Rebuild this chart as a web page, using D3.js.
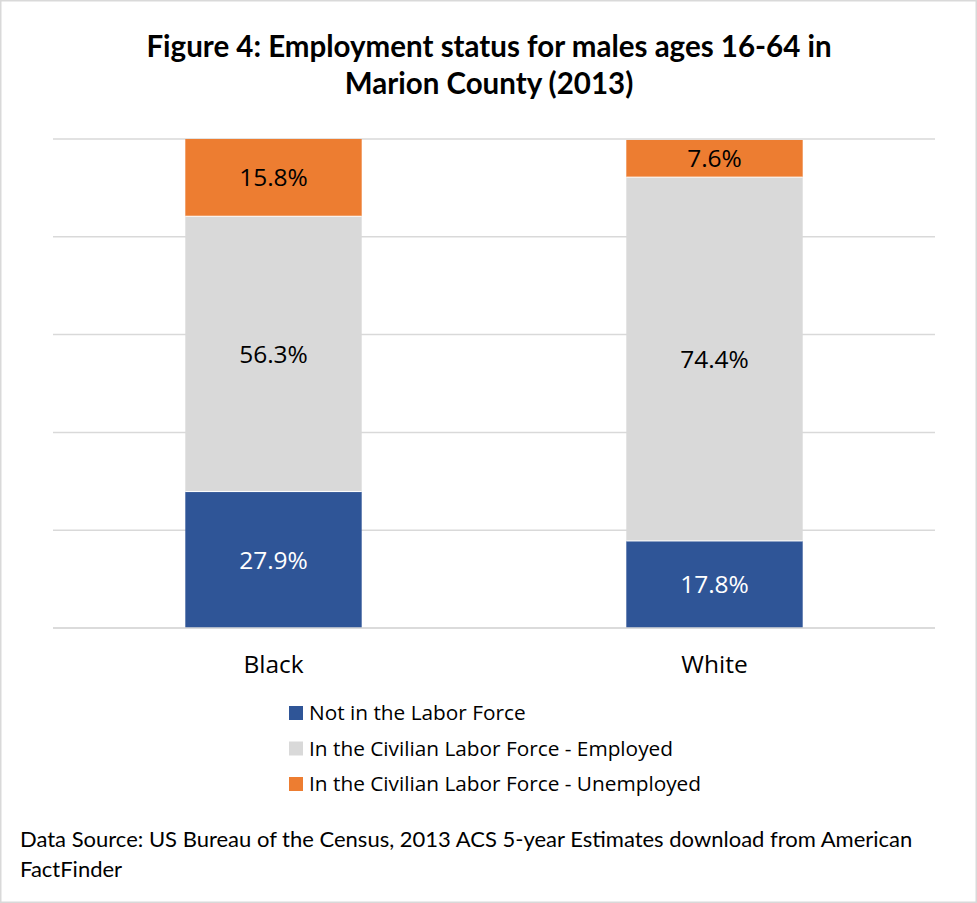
<!DOCTYPE html>
<html><head><meta charset="utf-8">
<script src="https://cdn.jsdelivr.net/npm/d3@7"></script>
<style>
html,body{margin:0;padding:0;background:#fff;}
svg{display:block;}
</style></head>
<body>
<svg id="c" width="977" height="903"></svg>
<script>
const categories = ["Black", "White"];
const seriesNames = ["Not in the Labor Force", "In the Civilian Labor Force - Employed", "In the Civilian Labor Force - Unemployed"];
const notInLaborForce = [27.9, 17.8];
const employed = [56.3, 74.4];
const unemployed = [15.8, 7.6];
const yTicks = [0, 20, 40, 60, 80, 100];
const colors = ["#2F5597", "#D9D9D9", "#ED7D31"];
const labelColors = ["#ffffff", "#000000", "#000000"];

const svg = d3.select("#c");
const W = 977, H = 903;
svg.append("rect").attr("x",0.75).attr("y",0.75).attr("width",W-1.5).attr("height",H-1.5)
  .attr("fill","#fff").attr("stroke","#D9D9D9").attr("stroke-width",1.5);

const m = {left:53, right:W-935, top:139, bottom:H-628};
const x = d3.scaleBand().domain(categories).range([m.left, 935]).paddingInner(0.6).paddingOuter(0.3);
const y = d3.scaleLinear().domain([0,100]).range([628, 139]);

// gridlines
svg.append("g").selectAll("line").data(yTicks).join("line")
  .attr("x1", m.left).attr("x2", 935)
  .attr("y1", d=>y(d)).attr("y2", d=>y(d))
  .attr("stroke","#D9D9D9").attr("stroke-width",1.5);

const table = categories.map((c,i)=>({cat:c, s0:notInLaborForce[i], s1:employed[i], s2:unemployed[i]}));
const stack = d3.stack().keys(["s0","s1","s2"])(table);

const g = svg.append("g");
stack.forEach((layer, li) => {
  g.append("g").selectAll("rect").data(layer).join("rect")
    .attr("x", d=>x(d.data.cat))
    .attr("width", x.bandwidth())
    .attr("y", d=>y(d[1]))
    .attr("height", d=>y(d[0])-y(d[1]))
    .attr("fill", colors[li]);
});
stack.forEach((layer, li) => {
  if (li===0) return;
  g.append("g").selectAll("line").data(layer).join("line")
    .attr("x1", d=>x(d.data.cat)).attr("x2", d=>x(d.data.cat)+x.bandwidth())
    .attr("y1", d=>y(d[0])).attr("y2", d=>y(d[0]))
    .attr("stroke","#ffffff").attr("stroke-width",1);
});
svg.append("line").attr("x1",m.left).attr("x2",935).attr("y1",y(0)).attr("y2",y(0))
  .attr("stroke","#D9D9D9").attr("stroke-width",1.5);

// data labels
stack.forEach((layer, li) => {
  g.append("g").selectAll("text").data(layer).join("text")
    .attr("x", d=>x(d.data.cat)+x.bandwidth()/2)
    .attr("y", d=>(y(d[0])+y(d[1]))/2)
    .attr("dy","0.36em")
    .attr("text-anchor","middle")
    .attr("font-family","'Open Sans', sans-serif")
    .attr("font-size",24.5)
    .attr("fill", labelColors[li])
    .text(d=>(d[1]-d[0]).toFixed(1)+"%");
});

// x axis
const xAxis = d3.axisBottom(x).tickSize(0).tickPadding(0);
const ax = svg.append("g").attr("transform","translate(0,"+(y(0))+")").call(xAxis);
ax.select(".domain").remove();
ax.selectAll("text").attr("font-family","'Open Sans', sans-serif").attr("font-size",24.5)
  .attr("fill","#000").attr("dy",null).attr("y",45);

// title
const title = svg.append("text").attr("text-anchor","middle")
  .attr("font-family","Lato, sans-serif").attr("font-weight","bold").attr("font-size",29.5).attr("fill","#000");
title.append("tspan").attr("x",489).attr("y",57).text("Figure 4: Employment status for males ages 16-64 in");
title.append("tspan").attr("x",489).attr("y",94).text("Marion County (2013)");

// legend
const leg = svg.append("g");
seriesNames.forEach((s,i)=>{
  const yy = 713 + i*35.5;
  leg.append("rect").attr("x",289).attr("y",yy-7).attr("width",14).attr("height",14).attr("fill",colors[i]);
  leg.append("text").attr("x",309).attr("y",yy).attr("dy","0.35em")
    .attr("font-family","'Open Sans', sans-serif").attr("font-size",20.8).attr("fill","#000").text(s);
});

// footnote
const fn = svg.append("text").attr("font-family","Lato, sans-serif").attr("font-size",22).attr("fill","#000");
fn.append("tspan").attr("x",20).attr("y",847).text("Data Source: US Bureau of the Census, 2013 ACS 5-year Estimates download from American");
fn.append("tspan").attr("x",20).attr("y",877).text("FactFinder");
</script>
</body></html>
